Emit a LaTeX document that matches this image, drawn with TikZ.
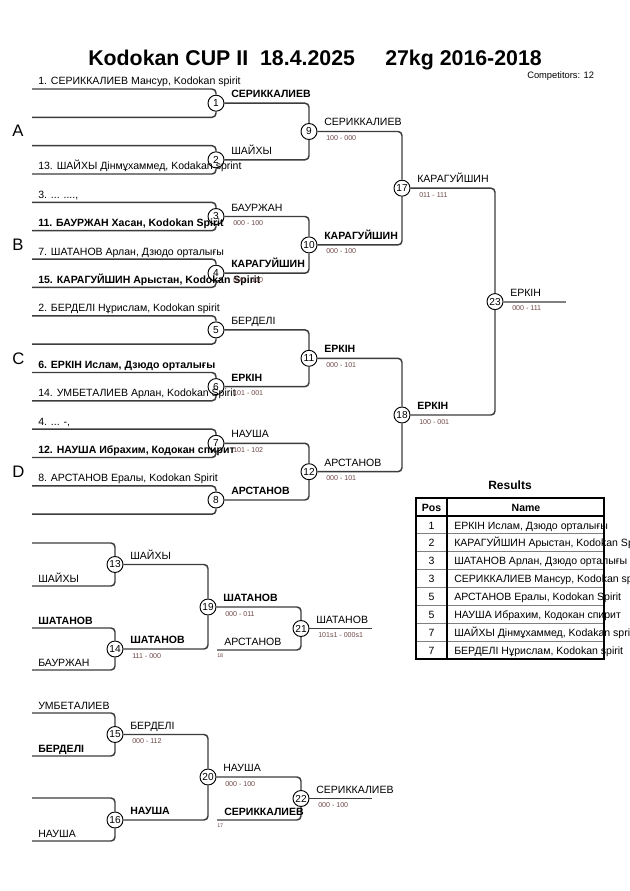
\documentclass[tikz,border=0pt]{standalone}
\usepackage{fontspec}
\setmainfont{Liberation Sans}
\definecolor{lncol}{RGB}{60,60,60}
\definecolor{sccol}{RGB}{110,70,70}
\begin{document}
\begin{tikzpicture}[x=0.75pt,y=-0.75pt,
  ln/.style={draw=lncol,line width=1.1pt,rounded corners=3pt},
  fin/.style={draw=black!50,line width=1.6pt},
  mc/.style={circle,draw=black,fill=white,line width=0.7pt,minimum size=12pt,inner sep=0pt,font=\fontsize{7.6}{8}\selectfont},
  ent/.style={anchor=base west,inner sep=0pt,font=\fontsize{7.9}{9}\selectfont},
  entb/.style={anchor=base west,inner sep=0pt,font=\fontsize{7.9}{9}\selectfont\bfseries},
  sc/.style={anchor=base west,inner sep=0pt,text=sccol,font=\fontsize{5.3}{6}\selectfont},
  tiny/.style={anchor=base west,inner sep=0pt,text=sccol,font=\fontsize{4}{5}\selectfont},
  big/.style={anchor=base west,inner sep=0pt,font=\fontsize{12.5}{14}\selectfont},
  ttl/.style={anchor=base west,inner sep=0pt,font=\fontsize{16}{18}\selectfont\bfseries},
  poscell/.style={anchor=base,inner sep=0pt,font=\fontsize{7.9}{9}\selectfont},
  poshead/.style={anchor=base,inner sep=0pt,font=\fontsize{7.9}{9}\selectfont\bfseries}]
\useasboundingbox (0,0) rectangle (630,891);
\fill[white] (0,0) rectangle (630,891);

\newcommand\WinLab[3]{\node[#1] at ([shift={(15,-5.5)}]#2.center) {#3};}
\newcommand\ScoreLab[2]{\node[sc] at ([shift={(17,9)}]#1.center) {#2};}

% title
\node[ttl] (title1) at (88,66) {Kodokan CUP II\ \ 18.4.2025};
\node[ttl] (title2) at (385,66) {27kg 2016-2018};
\node[anchor=base west,inner sep=0pt,font=\fontsize{7}{8}\selectfont] (comp) at (527,79) {Competitors: 12};

% pool letters
\node[big] (LA) at (12,137) {A};
\node[big] (LB) at (12,250.5) {B};
\node[big] (LC) at (12,364) {C};
\node[big] (LD) at (12,477) {D};

% main bracket circles
\foreach \n/\x/\y in {1/216/103.2,2/216/159.8,3/216/216.5,4/216/273.2,5/216/329.9,6/216/386.6,7/216/443.3,8/216/500,
  9/309/131.5,10/309/244.9,11/309/358.3,12/309/471.7,17/402/188.2,18/402/415,23/495/301.6,
  13/115/564.5,14/115/649,19/208/607,21/301/628.5,15/115/734.5,16/115/820,20/208/777,22/301/798.5}
  \node[mc] (m\n) at (\x,\y) {\n};

% entry line starts
\foreach \k in {1,...,8}{
  \pgfmathsetmacro\ty{89+56.7*(\k-1)}
  \pgfmathsetmacro\by{\ty+28.3}
  \coordinate (t\k) at (32,\ty);
  \coordinate (b\k) at (32,\by);
}
\foreach \k in {1,...,8}{
  \draw[ln] (t\k) -| (m\k.north);
  \draw[ln] (b\k) -| (m\k.south);
}
\draw[ln] (m1.east) -| (m9.north);
\draw[ln] (m2.east) -| (m9.south);
\draw[ln] (m3.east) -| (m10.north);
\draw[ln] (m4.east) -| (m10.south);
\draw[ln] (m5.east) -| (m11.north);
\draw[ln] (m6.east) -| (m11.south);
\draw[ln] (m7.east) -| (m12.north);
\draw[ln] (m8.east) -| (m12.south);
\draw[ln] (m9.east) -| (m17.north);
\draw[ln] (m10.east) -| (m17.south);
\draw[ln] (m11.east) -| (m18.north);
\draw[ln] (m12.east) -| (m18.south);
\draw[ln] (m17.east) -| (m23.north);
\draw[ln] (m18.east) -| (m23.south);
\coordinate (o23) at (566,301.6);
\draw[fin] (m23.east) -- (o23);

% entry names
\node[ent]  at ([shift={(6,-4)}]t1) {1. СЕРИККАЛИЕВ Мансур, Kodokan spirit};
\node[ent]  at ([shift={(6,-4)}]b2) {13. ШАЙХЫ Дінмұхаммед, Kodakan sprint};
\node[ent]  at ([shift={(6,-4)}]t3) {3. ... ....,};
\node[entb] at ([shift={(6,-4)}]b3) {11. БАУРЖАН Хасан, Kodokan Spirit};
\node[ent]  at ([shift={(6,-4)}]t4) {7. ШАТАНОВ Арлан, Дзюдо орталығы};
\node[entb] at ([shift={(6,-4)}]b4) {15. КАРАГУЙШИН Арыстан, Kodokan Spirit};
\node[ent]  at ([shift={(6,-4)}]t5) {2. БЕРДЕЛІ Нұрислам, Kodokan spirit};
\node[entb] at ([shift={(6,-4)}]t6) {6. ЕРКІН Ислам, Дзюдо орталығы};
\node[ent]  at ([shift={(6,-4)}]b6) {14. УМБЕТАЛИЕВ Арлан, Kodokan Spirit};
\node[ent]  at ([shift={(6,-4)}]t7) {4. ... -,};
\node[entb] at ([shift={(6,-4)}]b7) {12. НАУША Ибрахим, Кодокан спирит};
\node[ent]  at ([shift={(6,-4)}]t8) {8. АРСТАНОВ Ералы, Kodokan Spirit};

% winners and scores main
\WinLab{entb}{m1}{СЕРИККАЛИЕВ}
\WinLab{ent}{m2}{ШАЙХЫ}
\WinLab{ent}{m3}{БАУРЖАН}   \ScoreLab{m3}{000 - 100}
\WinLab{entb}{m4}{КАРАГУЙШИН} \ScoreLab{m4}{000 - 100}
\WinLab{ent}{m5}{БЕРДЕЛІ}
\WinLab{entb}{m6}{ЕРКІН}    \ScoreLab{m6}{101 - 001}
\WinLab{ent}{m7}{НАУША}     \ScoreLab{m7}{101 - 102}
\WinLab{entb}{m8}{АРСТАНОВ}
\WinLab{ent}{m9}{СЕРИККАЛИЕВ} \ScoreLab{m9}{100 - 000}
\WinLab{entb}{m10}{КАРАГУЙШИН} \ScoreLab{m10}{000 - 100}
\WinLab{entb}{m11}{ЕРКІН}   \ScoreLab{m11}{000 - 101}
\WinLab{ent}{m12}{АРСТАНОВ} \ScoreLab{m12}{000 - 101}
\WinLab{ent}{m17}{КАРАГУЙШИН} \ScoreLab{m17}{011 - 111}
\WinLab{entb}{m18}{ЕРКІН}   \ScoreLab{m18}{100 - 001}
\WinLab{ent}{m23}{ЕРКІН}    \ScoreLab{m23}{000 - 111}

% repechage 1
\coordinate (r13a) at (32,543);
\coordinate (r13b) at (32,586);
\coordinate (r14a) at (32,628);
\coordinate (r14b) at (32,670);
\coordinate (r21b) at (217,650);
\coordinate (o21) at (372,628.5);
\draw[ln] (r13a) -| (m13.north);
\draw[ln] (r13b) -| (m13.south);
\draw[ln] (r14a) -| (m14.north);
\draw[ln] (r14b) -| (m14.south);
\draw[ln] (m13.east) -| (m19.north);
\draw[ln] (m14.east) -| (m19.south);
\draw[ln] (m19.east) -| (m21.north);
\draw[ln] (r21b) -| (m21.south);
\draw[ln] (m21.east) -- (o21);
\node[ent]  at ([shift={(6,-4)}]r13b) {ШАЙХЫ};
\node[entb] at ([shift={(6,-4)}]r14a) {ШАТАНОВ};
\node[ent]  at ([shift={(6,-4)}]r14b) {БАУРЖАН};
\node[ent]  at ([shift={(7,-5)}]r21b) {АРСТАНОВ};
\node[tiny] at ([shift={(0,7)}]r21b) {18};
\WinLab{ent}{m13}{ШАЙХЫ}
\WinLab{entb}{m14}{ШАТАНОВ} \ScoreLab{m14}{111 - 000}
\WinLab{entb}{m19}{ШАТАНОВ} \ScoreLab{m19}{000 - 011}
\WinLab{ent}{m21}{ШАТАНОВ}  \ScoreLab{m21}{101s1 - 000s1}

% repechage 2
\coordinate (r15a) at (32,713);
\coordinate (r15b) at (32,756);
\coordinate (r16a) at (32,798);
\coordinate (r16b) at (32,841);
\coordinate (r22b) at (217,820);
\coordinate (o22) at (372,798.5);
\draw[ln] (r15a) -| (m15.north);
\draw[ln] (r15b) -| (m15.south);
\draw[ln] (r16a) -| (m16.north);
\draw[ln] (r16b) -| (m16.south);
\draw[ln] (m15.east) -| (m20.north);
\draw[ln] (m16.east) -| (m20.south);
\draw[ln] (m20.east) -| (m22.north);
\draw[ln] (r22b) -| (m22.south);
\draw[ln] (m22.east) -- (o22);
\node[ent]  at ([shift={(6,-4)}]r15a) {УМБЕТАЛИЕВ};
\node[entb] at ([shift={(6,-4)}]r15b) {БЕРДЕЛІ};
\node[ent]  at ([shift={(6,-4)}]r16b) {НАУША};
\node[entb] at ([shift={(7,-5)}]r22b) {СЕРИККАЛИЕВ};
\node[tiny] at ([shift={(0,7)}]r22b) {17};
\WinLab{ent}{m15}{БЕРДЕЛІ}  \ScoreLab{m15}{000 - 112}
\WinLab{entb}{m16}{НАУША}
\WinLab{ent}{m20}{НАУША}    \ScoreLab{m20}{000 - 100}
\WinLab{ent}{m22}{СЕРИККАЛИЕВ} \ScoreLab{m22}{000 - 100}

% results table
\node[anchor=base,inner sep=0pt,font=\fontsize{9}{10}\selectfont\bfseries] (restitle) at (510,489) {Results};
\foreach \i in {1,...,7}{
  \draw[black!50,line width=0.7pt] (416,{516+17.9*\i}) -- (604,{516+17.9*\i});
}
\draw[black,line width=0.8pt] (416,516) -- (604,516);
\draw[black,line width=0.8pt] (447,498) -- (447,659);
\node[poshead] at (431.5,511) {Pos};
\node[poshead] at (526,511) {Name};
\foreach \i/\p/\nm in {1/1/{ЕРКІН Ислам, Дзюдо орталығы},
  2/2/{КАРАГУЙШИН Арыстан, Kodokan Spirit},
  3/3/{ШАТАНОВ Арлан, Дзюдо орталығы},
  4/3/{СЕРИККАЛИЕВ Мансур, Kodokan spirit},
  5/5/{АРСТАНОВ Ералы, Kodokan Spirit},
  6/5/{НАУША Ибрахим, Кодокан спирит},
  7/7/{ШАЙХЫ Дінмұхаммед, Kodakan sprint},
  8/7/{БЕРДЕЛІ Нұрислам, Kodokan spirit}}{
  \node[poscell] at (431.5,{516+17.9*(\i-1)+13}) {\p};
  \node[ent] at (454,{516+17.9*(\i-1)+13}) {\nm};
}
\draw[black,line width=1.5pt] (416,498) rectangle (604,659);
\end{tikzpicture}
\end{document}
